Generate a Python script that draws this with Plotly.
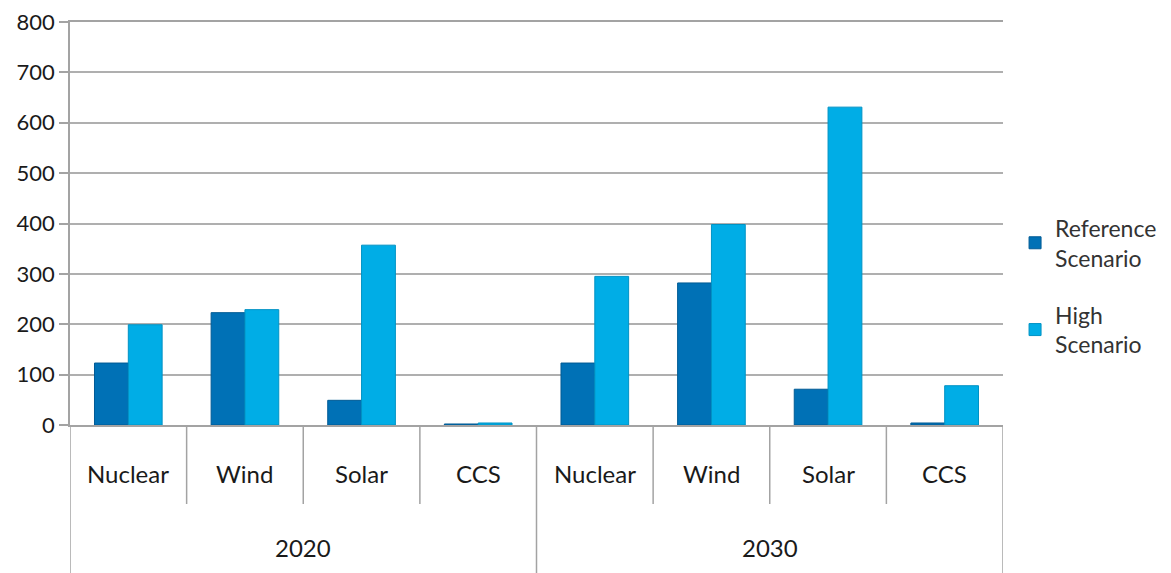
import plotly.graph_objects as go

years = ["2020", "2030"]
techs = ["Nuclear", "Wind", "Solar", "CCS"]
reference = [123, 223, 49, 2, 123, 282, 71, 4]
high = [199, 229, 357, 4, 295, 398, 631, 78]
y_ticks = [0, 100, 200, 300, 400, 500, 600, 700, 800]

FONT = "Lato"
GRID = "#AFAFAF"
AXIS = "#A3A3A3"

n_t = len(techs)
labels = [t for _ in years for t in techs]
xs = list(range(len(labels)))

fig = go.Figure()
fig.add_trace(go.Bar(
    x=xs, y=reference, name="Reference<br>Scenario", legendgroup="ref",
    marker=dict(color="#0071B6", line=dict(color="#005B95", width=1)),
))
fig.add_trace(go.Bar(
    x=xs, y=high, name="High<br>Scenario", legendgroup="high",
    marker=dict(color="#00ADE6", line=dict(color="#0092C4", width=1)),
))

# category labels (inner level) and year labels (outer level)
for i, lab in enumerate(labels):
    fig.add_annotation(x=i, y=-0.121, xref="x", yref="paper", text=lab,
                       showarrow=False, yanchor="middle",
                       font=dict(size=24, family=FONT, color="#1A1A1A"))
for j, yr in enumerate(years):
    fig.add_annotation(x=j * n_t + (n_t - 1) / 2, y=-0.305, xref="x", yref="paper",
                       text=yr, showarrow=False, yanchor="middle",
                       font=dict(size=24, family=FONT, color="#1A1A1A"))

# dividers
for k in range(len(labels) + 1):
    bx = k - 0.5
    outer = (k % n_t == 0)
    fig.add_shape(type="line", xref="x", yref="paper", x0=bx, x1=bx,
                  y0=0, y1=(-0.39 if outer else -0.196),
                  line=dict(color=AXIS, width=1.5))

fig.update_layout(
    width=1171, height=573,
    margin=dict(l=62, r=176, t=14, b=156),
    paper_bgcolor="white", plot_bgcolor="white",
    barmode="group", bargap=0.42, bargroupgap=0.0,
    font=dict(family=FONT, size=23, color="#222222"),
    showlegend=True,
    legend=dict(xref="container", x=0.86, y=0.344, xanchor="left",
                yanchor="middle",
                font=dict(size=23, family=FONT, color="#333333"),
                tracegroupgap=24, traceorder="grouped", itemwidth=30),
)
fig.update_xaxes(
    range=[-0.5, len(labels) - 0.5], showticklabels=False, showline=True,
    mirror=True, linecolor=AXIS, linewidth=1.5, showgrid=False, zeroline=False,
    fixedrange=True, automargin=False,
)
fig.update_yaxes(
    range=[0, 800], tickvals=y_ticks, showgrid=True, gridcolor=GRID,
    gridwidth=1.5, showline=True, linecolor=AXIS, linewidth=1.5,
    ticks="outside", ticklen=9, tickcolor=AXIS, tickwidth=1.5, zeroline=False,
    ticklabeloverflow="allow",
    tickfont=dict(size=22, family=FONT, color="#1A1A1A"), automargin=False,
)
fig.write_html("out.html")
